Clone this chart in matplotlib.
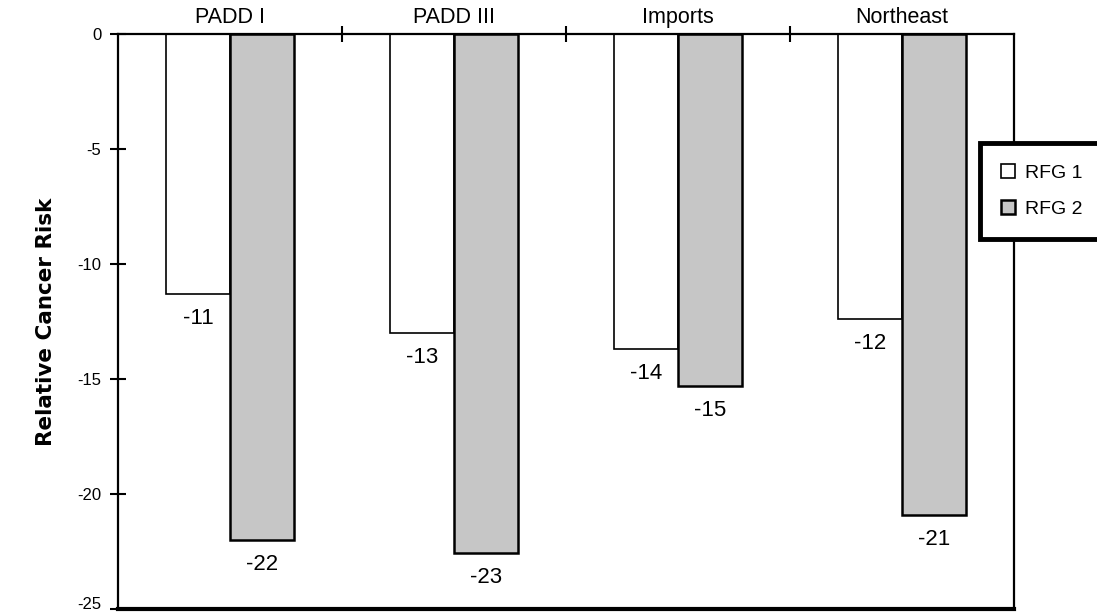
import matplotlib.pyplot as plt
import matplotlib.transforms as mtransforms
import numpy as np

# Change in relative cancer risk by crude source
regions = ["PADD I", "PADD III", "Imports", "Northeast"]
rfg1 = [-11.3, -13.0, -13.7, -12.4]
rfg2 = [-22.0, -22.55, -15.3, -20.9]
series_names = ["RFG 1", "RFG 2"]
y_ticks = [0, -5, -10, -15, -20, -25]

plt.rcParams['font.family'] = ['Liberation Sans', 'DejaVu Sans']

fig = plt.figure(figsize=(10.97, 6.13), dpi=100)
ax = fig.add_axes([0.1076, 0.0065, 0.8167, 0.938])

x = np.arange(len(regions))
w = 0.284

b1 = ax.bar(x - w / 2, rfg1, w, color="white", edgecolor="black", linewidth=1.2, label=series_names[0])
b2 = ax.bar(x + w / 2, rfg2, w, color="#c6c6c6", edgecolor="black", linewidth=1.8, label=series_names[1])

# value labels under each bar
for bars, vals in ((b1, rfg1), (b2, rfg2)):
    for bar, v in zip(bars, vals):
        ax.annotate("%.0f" % v, (bar.get_x() + bar.get_width() / 2, v),
                    xytext=(0, -10), textcoords="offset points",
                    ha="center", va="top", fontsize=16)

ax.set_xlim(-0.5, len(regions) - 0.5)
ax.set_ylim(-25, 0)

# category names sit above the zero line, tick marks between groups
ax.xaxis.tick_top()
ax.set_xticks(x)
ax.set_xticklabels(regions, fontsize=15.5)
ax.set_xticks(x[:-1] + 0.5, minor=True)
ax.tick_params(axis="x", which="major", length=0, pad=4)
ax.tick_params(axis="x", which="minor", direction="inout", length=12, width=1.5)

ax.set_yticks(y_ticks)
ax.set_yticklabels([str(t) for t in y_ticks], fontsize=12)
ax.tick_params(axis="y", direction="inout", length=12, width=1.5, pad=6)

# lift the bottom tick label so it stays inside the figure
bottom_lbl = ax.get_yticklabels()[-1]
bottom_lbl.set_transform(bottom_lbl.get_transform() +
                         mtransforms.ScaledTranslation(0, 4 / 72, fig.dpi_scale_trans))

ax.set_ylabel("Relative Cancer Risk", fontsize=15.5, fontweight="bold", family="DejaVu Sans")
ax.yaxis.set_label_coords(-0.069, 0.5)

for side in ("top", "left", "right"):
    ax.spines[side].set_linewidth(1.6)
ax.spines["bottom"].set_linewidth(3)

leg = fig.legend(loc="upper left", bbox_to_anchor=(0.8933, 0.6085, 0.2, 0.159),
                 mode="expand", borderaxespad=0, fontsize=14,
                 handlelength=0.7, handleheight=0.7, handletextpad=0.5,
                 borderpad=1.1, labelspacing=0.95,
                 fancybox=False, edgecolor="black", framealpha=1)
leg.get_frame().set_linewidth(3.5)

fig.savefig("out.png", dpi=100)
